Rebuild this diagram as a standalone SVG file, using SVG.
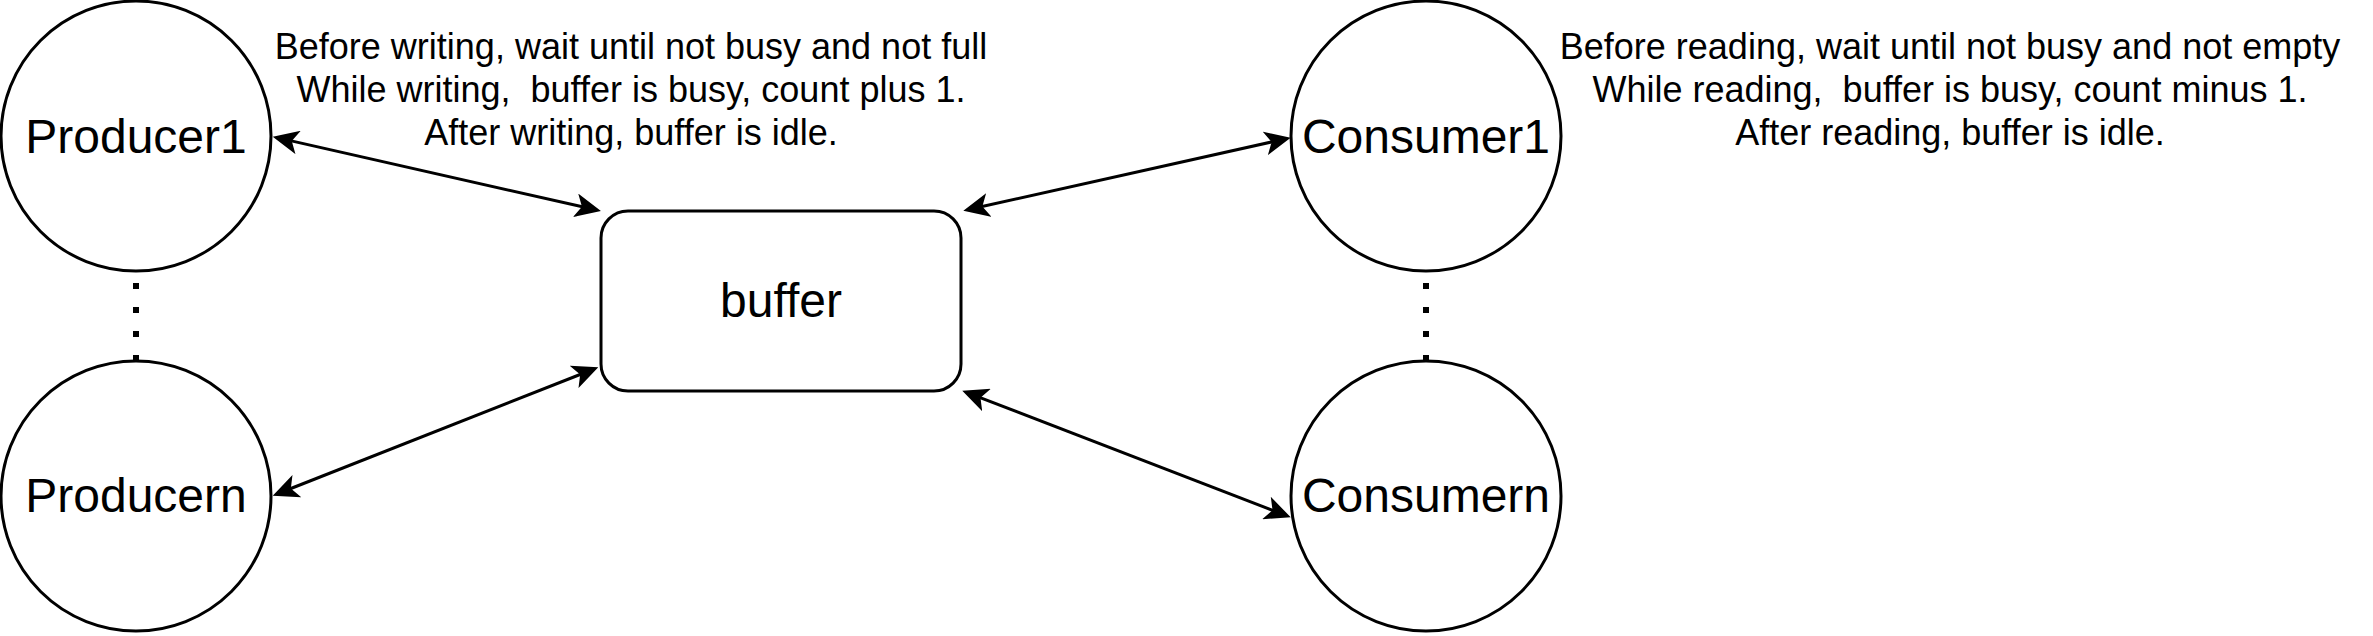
<svg xmlns="http://www.w3.org/2000/svg" width="2373" height="636" viewBox="0 0 2373 636">
<style>
.node{fill:#fff;stroke:#000;stroke-width:3}
.lbl{font-family:"Liberation Sans",Arial,Helvetica,sans-serif;font-size:48px;fill:#000;text-anchor:middle}
.note{font-family:"Liberation Sans",Arial,Helvetica,sans-serif;font-size:36px;fill:#000;text-anchor:middle;white-space:pre}
.edge{fill:none;stroke:#000;stroke-width:3}
.dots{fill:none;stroke:#000;stroke-width:6;stroke-dasharray:6 18}
</style>
<defs>
<marker id="arr" viewBox="0 -12 26 24" refX="16" refY="0" markerWidth="26" markerHeight="24" markerUnits="userSpaceOnUse" orient="auto-start-reverse">
<path d="M0,-12 L26,0 L0,12 L6.5,0 Z" fill="#000"/>
</marker>
</defs>
<rect width="2373" height="636" fill="#fff"/>
<g id="connectors">
<path class="edge" d="M282.5,138.9 L591.2,208.8" marker-start="url(#arr)" marker-end="url(#arr)"/>
<path class="edge" d="M282,492 L589,371" marker-start="url(#arr)" marker-end="url(#arr)"/>
<path class="edge" d="M973.1,208.5 L1280.9,139.9" marker-start="url(#arr)" marker-end="url(#arr)"/>
<path class="edge" d="M971.6,394.3 L1281.4,513.7" marker-start="url(#arr)" marker-end="url(#arr)"/>
<path class="dots" d="M136,361 L136,271"/>
<path class="dots" d="M1426,361 L1426,271"/>
</g>
<g id="producer1">
<circle class="node" cx="136" cy="136" r="135"/>
<text class="lbl" x="136" y="153">Producer1</text>
</g>
<g id="producern">
<circle class="node" cx="136" cy="496" r="135"/>
<text class="lbl" x="136" y="512">Producern</text>
</g>
<g id="buffer">
<rect class="node" x="601" y="211" width="360" height="180" rx="27" ry="27"/>
<text class="lbl" x="781" y="317">buffer</text>
</g>
<g id="consumer1">
<circle class="node" cx="1426" cy="136" r="135"/>
<text class="lbl" x="1426" y="153">Consumer1</text>
</g>
<g id="consumern">
<circle class="node" cx="1426" cy="496" r="135"/>
<text class="lbl" x="1426" y="512">Consumern</text>
</g>
<g id="writer-note">
<text class="note" xml:space="preserve"><tspan x="631" y="59">Before writing, wait until not busy and not full</tspan><tspan x="631" y="102">While writing,  buffer is busy, count plus 1.</tspan><tspan x="631" y="145">After writing, buffer is idle.</tspan></text>
</g>
<g id="reader-note">
<text class="note" xml:space="preserve"><tspan x="1950" y="59">Before reading, wait until not busy and not empty</tspan><tspan x="1950" y="102">While reading,  buffer is busy, count minus 1.</tspan><tspan x="1950" y="145">After reading, buffer is idle.</tspan></text>
</g>
</svg>
